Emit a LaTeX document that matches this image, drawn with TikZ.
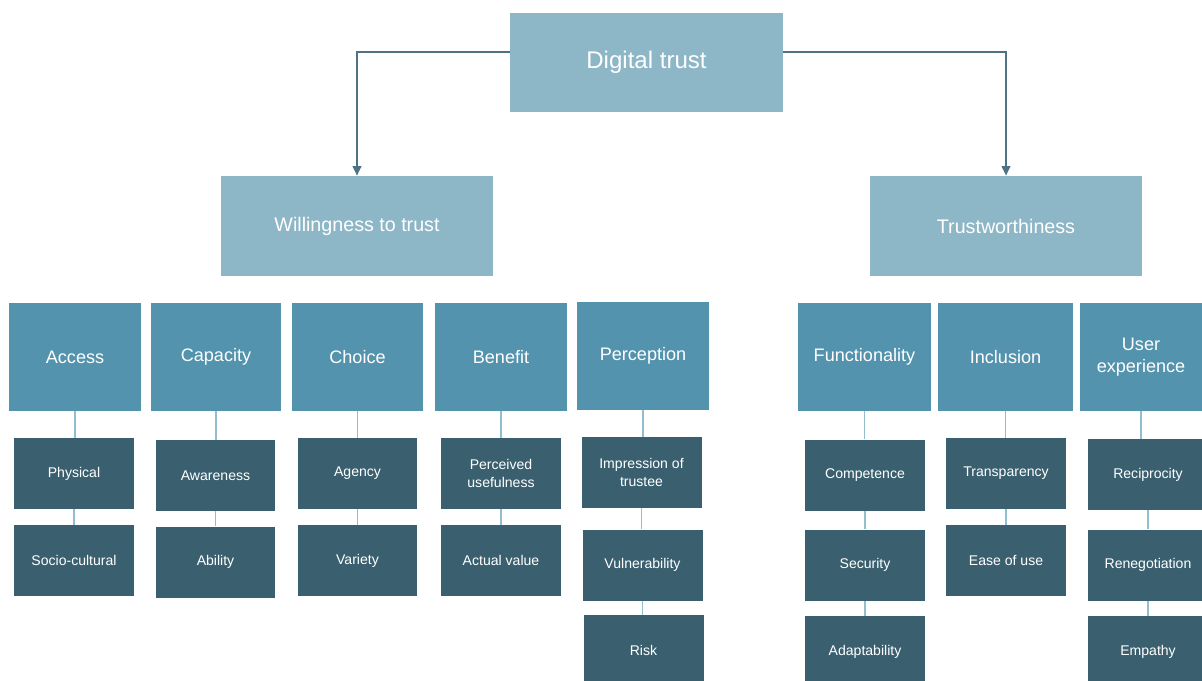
\documentclass[tikz,border=0pt]{standalone}
\usepackage{fontspec}
\setmainfont{Liberation Sans}
\usetikzlibrary{arrows.meta}

\definecolor{trustpale}{HTML}{8DB6C7}
\definecolor{trustmid}{HTML}{5393AD}
\definecolor{trustdark}{HTML}{3A6070}
\definecolor{trustline}{HTML}{4D7385}
\definecolor{trustlink}{HTML}{93BED0}

\begin{document}
\begin{tikzpicture}[x=0.02cm,y=-0.02cm,
	every node/.style={inner sep=0pt, text=white, align=center},
	rootbox/.style={fill=trustpale, minimum width=5.46cm, minimum height=1.98cm, font=\fontsize{13.7}{16}\selectfont},
	pillar/.style={fill=trustpale, minimum width=5.46cm, minimum height=2cm, font=\fontsize{11.2}{13.5}\selectfont},
	factor/.style={fill=trustmid, minimum width=2.64cm, minimum height=2.16cm, font=\fontsize{10.3}{12.5}\selectfont},
	leaf/.style={fill=trustdark, minimum width=2.4cm, minimum height=1.42cm, font=\fontsize{8}{10}\selectfont},
	branch/.style={draw=trustline, line width=0.9pt, -{Triangle[width=5pt,length=5.5pt]}},
	link/.style={draw=trustlink, line width=1.1pt}]
	\useasboundingbox (0,0) rectangle (1202,680);
	\clip (0,0) rectangle (1202,680);
	% top and the two pillars
	\node [rootbox] (dt) at (646.5,62.5) {Digital trust};
	\node [pillar] (wt) at (357,226) {Willingness to trust};
	\node [pillar] (tw) at (1006,226) {Trustworthiness};
	\draw [branch] ([yshift=0.21cm]dt.west) -| (wt.north);
	\draw [branch] ([yshift=0.21cm]dt.east) -| (tw.north);
	% factors
	\node [factor] (access) at (75,357) {Access};
	\node [factor, minimum width=2.6cm] (capacity) at (216,357) {Capacity};
	\node [factor, minimum width=2.62cm] (choice) at (357.5,357) {Choice};
	\node [factor] (benefit) at (501,357) {Benefit};
	\node [factor] (perception) at (643,356) {Perception};
	\node [factor, minimum width=2.66cm] (functionality) at (864.5,357) {Functionality};
	\node [factor, minimum width=2.7cm] (inclusion) at (1005.5,357) {Inclusion};
	\node [factor, minimum width=2.44cm] (userexp) at (1141,357) {User\\experience};
	% leaves
	\node [leaf] (physical) at (74,473.5) {Physical};
	\node [leaf] (socio) at (74,560.5) {Socio-cultural};
	\node [leaf] (awareness) at (215.5,475.5) {Awareness};
	\node [leaf] (ability) at (215.5,562) {Ability};
	\node [leaf] (agency) at (357.5,473.5) {Agency};
	\node [leaf] (variety) at (357.5,560.5) {Variety};
	\node [leaf] (useful) at (501,473.5) {Perceived\\usefulness};
	\node [leaf] (actual) at (501,560.5) {Actual value};
	\node [leaf] (impression) at (641.5,472.5) {Impression of\\trustee};
	\node [leaf] (vulner) at (642.5,565) {Vulnerability};
	\node [leaf] (risk) at (643.5,650.5) {Risk};
	\node [leaf] (competence) at (865,475) {Competence};
	\node [leaf] (security) at (865,565) {Security};
	\node [leaf] (adapt) at (865,651.5) {Adaptability};
	\node [leaf] (transp) at (1006,473.5) {Transparency};
	\node [leaf] (ease) at (1006,560.5) {Ease of use};
	\node [leaf] (recip) at (1148,474.5) {Reciprocity};
	\node [leaf] (reneg) at (1148,565) {Renegotiation};
	\node [leaf] (empathy) at (1148,651.5) {Empathy};
	% links between the levels
	\draw [link] (access.south) -- (physical.north -| access.south);
	\draw [link] (physical.south) -- (socio.north);
	\draw [link] (capacity.south) -- (awareness.north -| capacity.south);
	\draw [link] (awareness.south) -- (ability.north);
	\draw [link] (choice.south) -- (agency.north -| choice.south);
	\draw [link] (agency.south) -- (variety.north);
	\draw [link] (benefit.south) -- (useful.north -| benefit.south);
	\draw [link] (useful.south) -- (actual.north);
	\draw [link] (perception.south) -- (impression.north -| perception.south);
	\draw [link] (impression.south) -- (vulner.north -| impression.south);
	\draw [link] (vulner.south) -- (risk.north -| vulner.south);
	\draw [link] (functionality.south) -- (competence.north -| functionality.south);
	\draw [link] (competence.south) -- (security.north);
	\draw [link] (security.south) -- (adapt.north);
	\draw [link] (inclusion.south) -- (transp.north -| inclusion.south);
	\draw [link] (transp.south) -- (ease.north);
	\draw [link] (userexp.south) -- (recip.north -| userexp.south);
	\draw [link] (recip.south) -- (reneg.north);
	\draw [link] (reneg.south) -- (empathy.north);
\end{tikzpicture}
\end{document}
